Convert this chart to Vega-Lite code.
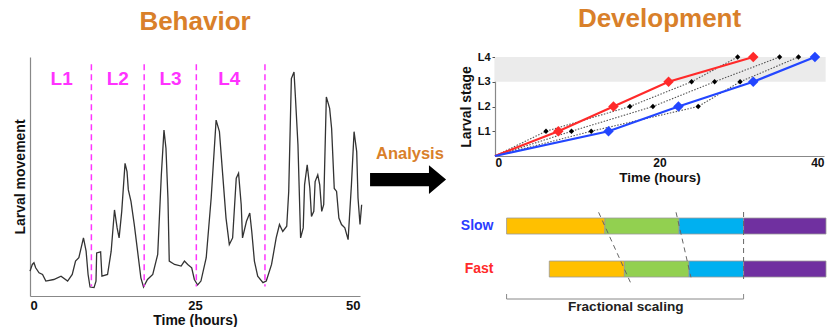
{
  "$schema": "https://vega.github.io/schema/vega-lite/v6.json",
  "background": "white",
  "padding": {"left": 13, "top": 6, "right": 0, "bottom": 0},
  "config": {
    "font": "Liberation Sans",
    "view": {"stroke": null},
    "axis": {"grid": false, "labelFont": "Liberation Sans", "titleFont": "Liberation Sans", "labelFontWeight": "bold", "titleFontWeight": "bold", "labelColor": "#111", "titleColor": "#111", "domainColor": "#888", "domainWidth": 1.2},
    "title": {"font": "Liberation Sans", "fontWeight": "bold", "fontSize": 26, "color": "#D9802A", "anchor": "middle", "frame": "group"}
  },
  "datasets": {
    "trace": [
      {"t":0,"v":10.4},{"t":0.35,"v":13.2},{"t":0.6,"v":13.9},{"t":0.86,"v":11.8},{"t":1.37,"v":9.7},{"t":1.9,"v":9.0},{"t":2.4,"v":6.25},{"t":3.6,"v":6.9},{"t":4.7,"v":8.3},{"t":5.7,"v":6.25},{"t":6.4,"v":9.0},{"t":6.9,"v":14.6},{"t":7.4,"v":16.0},{"t":8.1,"v":24.3},{"t":8.5,"v":18.75},{"t":8.8,"v":9.0},{"t":9.1,"v":3.75},{"t":9.7,"v":3.5},{"t":10.0,"v":6.25},{"t":10.1,"v":18},{"t":10.7,"v":18.5},{"t":10.9,"v":8.3},{"t":11.75,"v":9.0},{"t":12.3,"v":18.75},{"t":12.8,"v":36},{"t":13.2,"v":28.5},{"t":13.5,"v":24.3},{"t":13.9,"v":35.4},{"t":14.4,"v":55.5},{"t":14.7,"v":52},{"t":14.9,"v":44.4},{"t":15.3,"v":39.6},{"t":15.8,"v":29.9},{"t":16.3,"v":18.75},{"t":16.8,"v":7.6},{"t":17.2,"v":3.75},{"t":17.8,"v":6.9},{"t":18.6,"v":9.0},{"t":19.35,"v":17.4},{"t":19.9,"v":50.7},{"t":20.3,"v":69.4},{"t":20.6,"v":61.8},{"t":20.9,"v":41},{"t":21.1,"v":14.6},{"t":21.9,"v":13.2},{"t":22.9,"v":12.5},{"t":23.4,"v":14.6},{"t":23.9,"v":13.2},{"t":24.5,"v":11.8},{"t":24.9,"v":6.9},{"t":25.4,"v":4.6},{"t":25.9,"v":6.25},{"t":26.7,"v":16},{"t":27.45,"v":41},{"t":28.2,"v":73.6},{"t":28.7,"v":68.75},{"t":29.2,"v":50.7},{"t":29.7,"v":32.6},{"t":30.2,"v":21.5},{"t":30.7,"v":24.3},{"t":31.25,"v":49.3},{"t":31.6,"v":51.4},{"t":32.0,"v":38.2},{"t":32.2,"v":24.3},{"t":32.8,"v":31.25},{"t":33.3,"v":34.7},{"t":33.6,"v":27},{"t":34.0,"v":14.6},{"t":34.5,"v":8.3},{"t":35.3,"v":5.6},{"t":35.8,"v":6.25},{"t":36.6,"v":13.2},{"t":37.3,"v":24.3},{"t":37.8,"v":29.9},{"t":38.3,"v":27},{"t":38.9,"v":29.2},{"t":39.2,"v":43.75},{"t":39.6,"v":91},{"t":40.0,"v":93.75},{"t":40.2,"v":84},{"t":40.6,"v":63.2},{"t":41.0,"v":24.3},{"t":41.4,"v":28.5},{"t":41.6,"v":46.5},{"t":42.0,"v":54.9},{"t":42.4,"v":45},{"t":42.65,"v":33.3},{"t":43.0,"v":35.4},{"t":43.2,"v":47.9},{"t":43.6,"v":50.7},{"t":43.9,"v":46.5},{"t":44.2,"v":35.4},{"t":44.5,"v":38.2},{"t":44.9,"v":83.3},{"t":45.4,"v":78.5},{"t":45.7,"v":70.1},{"t":46.1,"v":45},{"t":46.45,"v":43.75},{"t":46.8,"v":32.6},{"t":47.2,"v":29.9},{"t":47.7,"v":28.5},{"t":48.2,"v":23.6},{"t":48.7,"v":46.5},{"t":49.1,"v":68.75},{"t":49.5,"v":60.4},{"t":49.7,"v":41},{"t":50.0,"v":29.9},{"t":50.25,"v":38.2}
    ],
    "molts": [{"t":9.3},{"t":17.3},{"t":25.2},{"t":35.6}],
    "stageLabels": [{"t":4.8,"label":"L1"},{"t":13.3,"label":"L2"},{"t":21.3,"label":"L3"},{"t":30.2,"label":"L4"}],
    "groups": [
      {"group":"Fast","t":0,"stage":0},{"group":"Fast","t":7.7,"stage":1},{"group":"Fast","t":14.4,"stage":2},{"group":"Fast","t":21.1,"stage":3},{"group":"Fast","t":31.4,"stage":4},
      {"group":"Slow","t":0,"stage":0},{"group":"Slow","t":13.8,"stage":1},{"group":"Slow","t":22.3,"stage":2},{"group":"Slow","t":31.4,"stage":3},{"group":"Slow","t":38.9,"stage":4}
    ],
    "indiv": [
      {"id":"A","t":0,"stage":0},{"id":"A","t":6.2,"stage":1},{"id":"A","t":16.4,"stage":2},{"id":"A","t":23.9,"stage":3},{"id":"A","t":29.5,"stage":4},
      {"id":"B","t":0,"stage":0},{"id":"B","t":9.3,"stage":1},{"id":"B","t":19.2,"stage":2},{"id":"B","t":26.7,"stage":3},{"id":"B","t":34.6,"stage":4},
      {"id":"C","t":0,"stage":0},{"id":"C","t":11.7,"stage":1},{"id":"C","t":24.7,"stage":2},{"id":"C","t":29.8,"stage":3},{"id":"C","t":36.9,"stage":4}
    ],
    "bars": [
      {"row":"Slow","stage":"L1","start":3.5,"end":33.2},{"row":"Slow","stage":"L2","start":33.2,"end":55.6},{"row":"Slow","stage":"L3","start":55.6,"end":75.1},{"row":"Slow","stage":"L4","start":75.1,"end":100},
      {"row":"Fast","stage":"L1","start":16.4,"end":39.1},{"row":"Fast","stage":"L2","start":39.1,"end":58.6},{"row":"Fast","stage":"L3","start":58.6,"end":75.1},{"row":"Fast","stage":"L4","start":75.1,"end":100}
    ],
    "boundaries": [
      {"x":31.3,"y":10.17,"x2":40.9,"y2":3.17},
      {"x":54.7,"y":10.17,"x2":59.2,"y2":3.67},
      {"x":75.1,"y":10.2,"x2":75.1,"y2":3.5}
    ]
  },
  "hconcat": [
    {
      "width": 330,
      "height": 239,
      "title": {"text": "Behavior", "offset": 22},
      "layer": [
        {
          "data": {"name": "trace"},
          "mark": {"type": "line", "color": "#333", "strokeWidth": 1.3, "clip": false},
          "encoding": {
            "x": {"field": "t", "type": "quantitative", "scale": {"domain": [0, 50], "nice": false, "zero": false},
                  "axis": {"values": [0, 25, 50], "ticks": false, "tickSize": 0, "labelPadding": 3, "labelFontSize": 13, "title": "Time (hours)", "titleFontSize": 14, "titlePadding": 1}},
            "y": {"field": "v", "type": "quantitative", "scale": {"domain": [0, 100], "nice": false},
                  "axis": {"labels": false, "ticks": false, "tickSize": 0, "title": "Larval movement", "titleFontSize": 14, "titlePadding": 3}}
          }
        },
        {
          "data": {"name": "molts"},
          "mark": {"type": "rule", "color": "#FF33FF", "strokeWidth": 1.5, "strokeDash": [6, 4]},
          "encoding": {
            "x": {"field": "t", "type": "quantitative"},
            "y": {"datum": 97},
            "y2": {"datum": 4}
          }
        },
        {
          "data": {"name": "stageLabels"},
          "mark": {"type": "text", "color": "#FF33FF", "fontSize": 19, "fontWeight": "bold", "baseline": "middle"},
          "encoding": {
            "x": {"field": "t", "type": "quantitative"},
            "y": {"datum": 91},
            "text": {"field": "label"}
          }
        }
      ]
    },
    {
      "width": 135,
      "height": 239,
      "data": {"values": [{"label": "Analysis"}]},
      "layer": [
        {
          "mark": {"type": "point", "shape": "M-1,-0.176L0.55,-0.176L0.55,-0.38L1,0L0.55,0.38L0.55,0.176L-1,0.176Z", "size": 5776, "filled": true, "color": "#000", "opacity": 1, "strokeWidth": 0},
          "encoding": {
            "x": {"datum": 0.356, "type": "quantitative", "scale": {"domain": [0, 1]}, "axis": null},
            "y": {"datum": 0.487, "type": "quantitative", "scale": {"domain": [0, 1]}, "axis": null}
          }
        },
        {
          "mark": {"type": "text", "color": "#D9802A", "fontSize": 16.5, "fontWeight": "bold", "baseline": "middle"},
          "encoding": {
            "x": {"datum": 0.37, "type": "quantitative"},
            "y": {"datum": 0.594, "type": "quantitative"},
            "text": {"field": "label"}
          }
        }
      ]
    },
    {
      "resolve": {"scale": {"color": "independent"}},
      "vconcat": [
        {
          "width": 329,
          "height": 99,
          "title": {"text": "Development", "offset": 19},
          "layer": [
            {
              "data": {"values": [{"a": 0, "b": 40.2, "lo": 3, "hi": 4}]},
              "mark": {"type": "rect", "color": "#EBEBEB", "clip": false},
              "encoding": {
                "x": {"field": "a", "type": "quantitative", "scale": {"domain": [0, 40], "nice": false},
                      "axis": {"values": [0, 20, 40], "tickCount": 3, "ticks": false, "tickSize": 0, "labelPadding": 1, "labelFontSize": 12, "title": "Time (hours)", "titleFontSize": 13.5, "titlePadding": 2}},
                "x2": {"field": "b"},
                "y": {"field": "lo", "type": "quantitative", "scale": {"domain": [0, 4], "nice": false},
                      "axis": {"values": [1, 2, 3, 4], "tickCount": 8, "labelExpr": "'L' + datum.value", "labelOverlap": false, "ticks": true, "tickSize": 3, "tickColor": "#555", "labelPadding": 2, "labelFontSize": 11, "title": "Larval stage", "titleFontSize": 14, "titlePadding": 4}},
                "y2": {"field": "hi"}
              }
            },
            {
              "data": {"name": "indiv"},
              "mark": {"type": "line", "color": "#555", "strokeWidth": 1.1, "strokeDash": [1.5, 1.5]},
              "encoding": {
                "x": {"field": "t", "type": "quantitative"},
                "y": {"field": "stage", "type": "quantitative"},
                "detail": {"field": "id"}
              }
            },
            {
              "data": {"name": "indiv"},
              "transform": [{"filter": "datum.stage > 0"}],
              "mark": {"type": "point", "shape": "diamond", "size": 28, "filled": true, "color": "#000", "opacity": 1},
              "encoding": {
                "x": {"field": "t", "type": "quantitative"},
                "y": {"field": "stage", "type": "quantitative"}
              }
            },
            {
              "data": {"name": "groups"},
              "mark": {"type": "line", "strokeWidth": 2.2},
              "encoding": {
                "x": {"field": "t", "type": "quantitative"},
                "y": {"field": "stage", "type": "quantitative"},
                "color": {"field": "group", "type": "nominal", "scale": {"domain": ["Fast", "Slow"], "range": ["#FF2A2A", "#2346FF"]}, "legend": null}
              }
            },
            {
              "data": {"name": "groups"},
              "transform": [{"filter": "datum.stage > 0"}],
              "mark": {"type": "point", "shape": "diamond", "size": 110, "filled": true, "opacity": 1, "clip": false},
              "encoding": {
                "x": {"field": "t", "type": "quantitative"},
                "y": {"field": "stage", "type": "quantitative"},
                "color": {"field": "group", "type": "nominal", "legend": null}
              }
            }
          ]
        },
        {
          "width": 331,
          "height": 110,
          "resolve": {"scale": {"y": "independent"}},
          "layer": [
            {
              "data": {"name": "bars"},
              "mark": {"type": "bar", "stroke": "#999", "strokeWidth": 0.8},
              "encoding": {
                "x": {"field": "start", "type": "quantitative", "scale": {"domain": [0, 100], "nice": false}, "axis": null},
                "x2": {"field": "end"},
                "y": {"field": "row", "type": "nominal", "scale": {"domain": ["Slow", "Fast"], "paddingInner": 0.628, "paddingOuter": 0.593, "align": 0.275},
                      "axis": {"title": null, "domain": false, "ticks": false, "labelPadding": 2, "labelFontSize": 14,
                               "labelColor": {"condition": {"test": "datum.label == 'Slow'", "value": "#2A3CFF"}, "value": "#FF2A2A"}}},
                "color": {"field": "stage", "type": "nominal", "scale": {"domain": ["L1", "L2", "L3", "L4"], "range": ["#FFC000", "#92D050", "#00B0F0", "#7030A0"]}, "legend": null}
              }
            },
            {
              "layer": [
                {
                  "data": {"name": "boundaries"},
                  "mark": {"type": "rule", "color": "#666", "strokeWidth": 1, "strokeDash": [5, 4]},
                  "encoding": {
                    "x": {"field": "x", "type": "quantitative", "scale": {"domain": [0, 100], "nice": false}, "axis": null},
                    "x2": {"field": "x2"},
                    "y": {"field": "y", "type": "quantitative", "scale": {"domain": [0, 11], "nice": false, "zero": false}, "axis": null},
                    "y2": {"field": "y2"}
                  }
                },
                {
                  "data": {"values": [{"a": 3.5, "b": 75.1}]},
                  "mark": {"type": "rule", "color": "#888", "strokeWidth": 1},
                  "encoding": {
                    "x": {"field": "a", "type": "quantitative"},
                    "x2": {"field": "b"},
                    "y": {"datum": 1.5, "type": "quantitative"}
                  }
                },
                {
                  "data": {"values": [{"a": 3.5}, {"a": 75.1}]},
                  "mark": {"type": "rule", "color": "#888", "strokeWidth": 1},
                  "encoding": {
                    "x": {"field": "a", "type": "quantitative"},
                    "y": {"datum": 1.5, "type": "quantitative"},
                    "y2": {"datum": 2.0}
                  }
                },
                {
                  "data": {"values": [{"label": "Fractional scaling"}]},
                  "mark": {"type": "text", "fontSize": 13.6, "fontWeight": "bold", "color": "#222", "baseline": "middle"},
                  "encoding": {
                    "x": {"datum": 39.5, "type": "quantitative"},
                    "y": {"datum": 0.7, "type": "quantitative"},
                    "text": {"field": "label"}
                  }
                }
              ]
            }
          ]
        }
      ],
      "spacing": 48,
      "bounds": "flush"
    }
  ],
  "spacing": 0,
  "bounds": "flush"
}
